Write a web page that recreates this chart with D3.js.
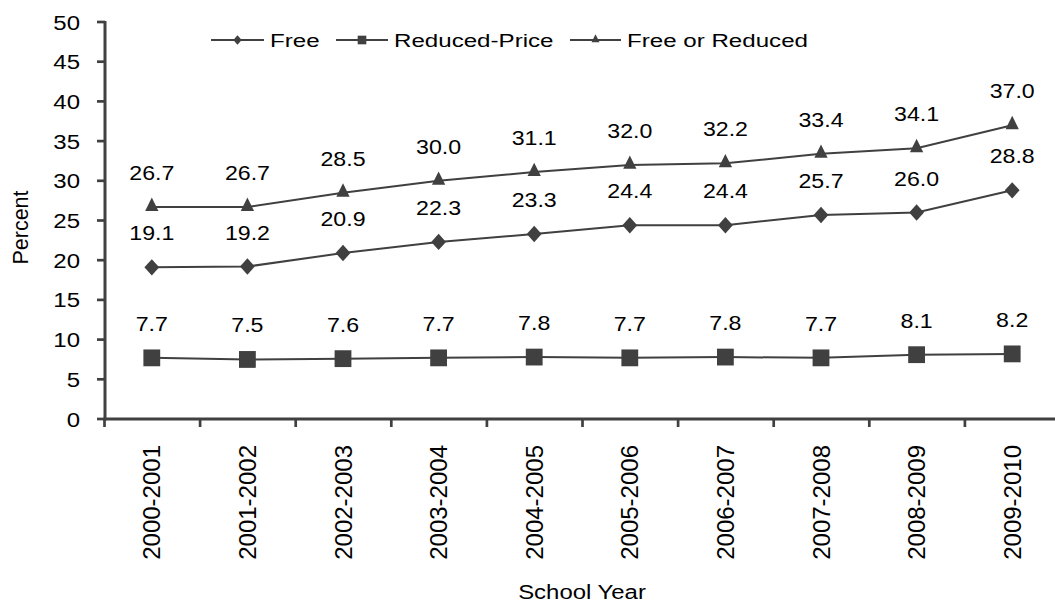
<!DOCTYPE html>
<html>
<head>
<meta charset="utf-8">
<script src="https://cdn.jsdelivr.net/npm/d3@7"></script>
<style>
  body { margin: 0; background: #fff; }
  text { font-family: "Liberation Sans", Arial, sans-serif; fill: #000; }
</style>
</head>
<body>
<div class="chart"></div>
<script>
// school years on the x axis
const years = ["2000-2001", "2001-2002", "2002-2003", "2003-2004", "2004-2005",
               "2005-2006", "2006-2007", "2007-2008", "2008-2009", "2009-2010"];
const freeValues = [19.1, 19.2, 20.9, 22.3, 23.3, 24.4, 24.4, 25.7, 26.0, 28.8];
const reducedValues = [7.7, 7.5, 7.6, 7.7, 7.8, 7.7, 7.8, 7.7, 8.1, 8.2];
const freeOrReducedValues = [26.7, 26.7, 28.5, 30.0, 31.1, 32.0, 32.2, 33.4, 34.1, 37.0];
const seriesNames = ["Free", "Reduced-Price", "Free or Reduced"];
const yTicks = [0, 5, 10, 15, 20, 25, 30, 35, 40, 45, 50];

const outerWidth = 1055;
const outerHeight = 604;
const ink = "#404040";

const svg = d3.select(".chart")
            .append("svg")
            .attr("width", outerWidth)
            .attr("height", outerHeight);

const xScale = d3.scaleBand()
            .domain(years)
            .range([104, 1060])
            .padding(0);

const yScale = d3.scaleLinear()
            .domain([0, 50])
            .range([419, 22]);

const cx = d => xScale(d) + xScale.bandwidth() / 2;

// horizontal text in the reference is a bit wider than plain Arial
function wideText(g, x, y, str, size, sx, anchor) {
    return g.append("text")
        .attr("transform", `translate(${x},${y}) scale(${sx},1)`)
        .attr("text-anchor", anchor || "middle")
        .style("font-size", size + "px")
        .text(str);
}

// markers
const symbols = {
    "Free": d3.symbol().type(d3.symbolDiamond2).size(155),
    "Reduced-Price": d3.symbol().type(d3.symbolSquare2).size(360),
    "Free or Reduced": d3.symbol().type(d3.symbolTriangle2).size(140)
};
const legendSymbols = {
    "Free": d3.symbol().type(d3.symbolDiamond2).size(50),
    "Reduced-Price": d3.symbol().type(d3.symbolSquare2).size(95),
    "Free or Reduced": d3.symbol().type(d3.symbolTriangle2).size(50)
};

function marker(g, name, x, y, sym) {
    const p = g.append("path")
        .attr("d", sym[name]())
        .attr("fill", ink)
        .attr("stroke", "none");
    if (name === "Free or Reduced") {
        p.attr("transform", `translate(${x},${y - 0.5}) scale(0.95,1.1)`);
    } else if (name === "Free") {
        p.attr("transform", `translate(${x},${y}) scale(0.95,1.05)`);
    } else {
        p.attr("transform", `translate(${x},${y})`);
    }
    return p;
}

// axes
const gy = svg.append("g").attr("class", "axis-y-axis");
gy.append("line")
    .attr("x1", 105).attr("x2", 105)
    .attr("y1", yScale(50) - 1).attr("y2", yScale(0) + 1.5)
    .attr("stroke", ink).attr("stroke-width", 3);
yTicks.forEach(t => {
    gy.append("line")
        .attr("x1", 97).attr("x2", 105)
        .attr("y1", yScale(t)).attr("y2", yScale(t))
        .attr("stroke", ink).attr("stroke-width", 2.7);
    wideText(gy, 80, yScale(t) + 7.5, String(t), 20.5, 1.17, "end");
});

const gx = svg.append("g").attr("class", "axis-x-axis");
gx.append("line")
    .attr("x1", 103.5).attr("x2", outerWidth)
    .attr("y1", yScale(0)).attr("y2", yScale(0))
    .attr("stroke", ink).attr("stroke-width", 3.2);
years.forEach(yr => {
    gx.append("line")
        .attr("x1", xScale(yr) + 0.5).attr("x2", xScale(yr) + 0.5)
        .attr("y1", yScale(0)).attr("y2", yScale(0) + 8)
        .attr("stroke", ink).attr("stroke-width", 2.7);
    gx.append("text")
        .attr("transform", `translate(${cx(yr)},445) rotate(-90)`)
        .attr("text-anchor", "end")
        .attr("dy", "0.36em")
        .style("font-size", "24px")
        .text(yr);
});

// axis titles
svg.append("text")
    .attr("class", "y-axis-title")
    .attr("transform", `translate(28,227.5) rotate(-90)`)
    .attr("text-anchor", "middle")
    .style("font-size", "21.5px")
    .text("Percent");
wideText(svg, 582, 599, "School Year", 21, 1.14);

// lines, markers and labels
const allSeries = [
    { name: "Free", values: freeValues },
    { name: "Reduced-Price", values: reducedValues },
    { name: "Free or Reduced", values: freeOrReducedValues }
];

const line = d3.line()
    .x((d, i) => cx(years[i]))
    .y(d => yScale(d));

allSeries.forEach(s => {
    const g = svg.append("g").attr("class", "series");
    g.append("path")
        .datum(s.values)
        .attr("d", line)
        .attr("fill", "none")
        .attr("stroke", ink)
        .attr("stroke-width", 2);
    s.values.forEach((v, i) => {
        marker(g, s.name, cx(years[i]), yScale(v), symbols);
        wideText(g, cx(years[i]), yScale(v) - 27, v.toFixed(1), 20.5, 1.13);
    });
});

// legend
const legend = svg.append("g").attr("class", "legend");
const legendItems = [
    { name: seriesNames[0], x0: 211, x1: 264, tx: 270 },
    { name: seriesNames[1], x0: 336, x1: 388, tx: 394 },
    { name: seriesNames[2], x0: 570, x1: 621, tx: 627 }
];
legendItems.forEach(it => {
    legend.append("line")
        .attr("x1", it.x0).attr("x2", it.x1)
        .attr("y1", 40).attr("y2", 40)
        .attr("stroke", ink).attr("stroke-width", 2);
    marker(legend, it.name, (it.x0 + it.x1) / 2, 40, legendSymbols);
    wideText(legend, it.tx, 47, it.name, 19, 1.27, "start");
});
</script>
</body>
</html>
